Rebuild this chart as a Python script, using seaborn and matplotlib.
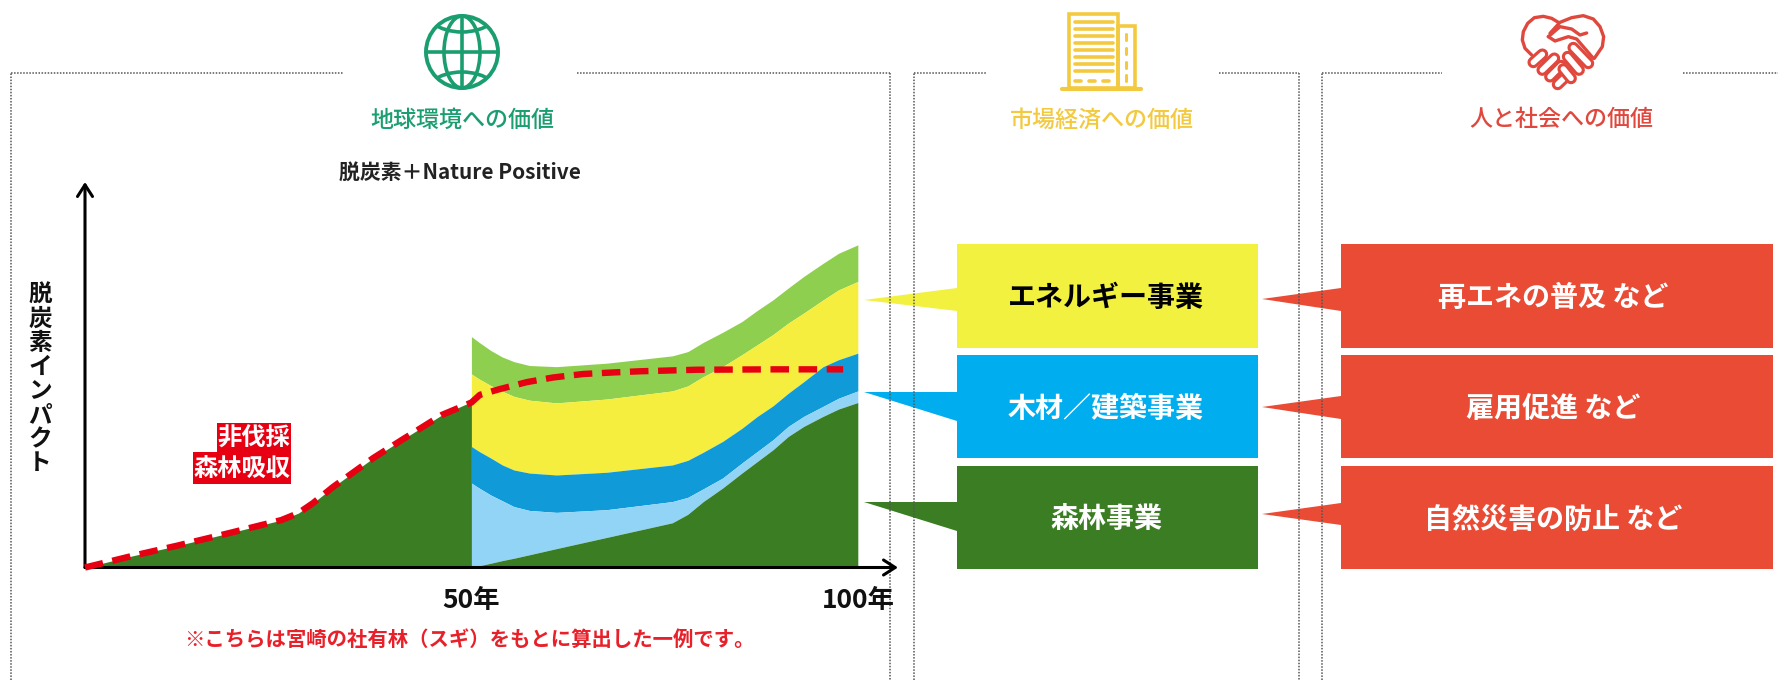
import matplotlib
matplotlib.use("Agg")
import matplotlib.pyplot as plt
import matplotlib.patches as mpatches
import pandas as pd
import seaborn as sns

sns.set_theme(style="white")
plt.rcParams['font.family'] = ['Noto Sans CJK JP', 'DejaVu Sans']

# Decarbonisation impact by stand age, stacked by business line
years_before = [0, 6.1, 12, 18.8, 25.4, 27.6, 29.5, 32.1, 37.3, 41, 46.2, 50]
forest_before = [0, 3.0, 5.7, 9.0, 12.3, 14.1, 16.7, 20.9, 28.4, 33.1, 39.6, 43]

years_after = [50, 51, 52.5, 54, 55.5, 57.5, 61, 67.5, 76, 78, 80, 82.5, 85, 87, 89, 91, 93, 95.5, 97.5, 100]
forest_top = [0, 0.45, 1.1, 1.8, 2.4, 3.3, 4.9, 7.8, 11.6, 13.8, 17.1, 20.6, 24.5, 27.5, 30.5, 34.0, 36.6, 39.2, 41.1, 42.8]
timber_light_top = [21.9, 20.6, 18.8, 17.3, 15.8, 14.8, 14.3, 15.0, 17.1, 18.2, 20.4, 23.2, 27.1, 30.1, 33.1, 36.6, 39.2, 41.8, 43.9, 45.8]
timber_top = [31.4, 30.1, 28.4, 26.6, 25.3, 24.5, 24.0, 24.7, 26.6, 27.8, 29.9, 32.7, 36.1, 39.2, 41.9, 45.2, 48.2, 52.1, 53.9, 55.6]
energy_top = [50.2, 48.9, 47.2, 45.7, 44.4, 43.4, 42.7, 43.7, 45.8, 47.1, 49.5, 52.1, 55.2, 57.8, 60.4, 63.4, 66.0, 69.4, 72.0, 74.2]
energy_light_top = [59.9, 58.4, 56.3, 54.6, 53.4, 52.4, 52.1, 53.0, 54.9, 56.0, 58.4, 61.0, 63.8, 66.7, 69.4, 72.5, 75.5, 78.9, 81.5, 83.7]

# Absorption if the forest is never harvested
no_harvest_years = [0, 6.1, 12, 18.8, 25.4, 27.6, 29.5, 32.1, 37.3, 41, 46.2, 50, 51.1, 53.7,
                    57.2, 60.6, 64.5, 68.4, 71.8, 79.2, 89.1, 98.1]
no_harvest = [0, 3.0, 5.7, 9.0, 12.3, 14.1, 16.7, 20.9, 28.4, 33.1, 39.6, 42.8, 44.8, 46.3,
              48.1, 49.3, 50.2, 50.6, 50.9, 51.3, 51.4, 51.4]

x_ticks = [50, 100]
x_tick_labels = ["50年", "100年"]

titles = ["地球環境への価値", "市場経済への価値", "人と社会への価値"]
business_labels = ["エネルギー事業", "木材／建築事業", "森林事業"]
social_labels = ["再エネの普及 など", "雇用促進 など", "自然災害の防止 など"]

DARK = "#3B7D23"
LIGHT_GREEN = "#8FCF4F"
YELLOW = "#F5EE3F"
BLUE = "#109BD8"
LIGHT_BLUE = "#92D4F5"
RED = "#E60012"
ORANGE_RED = "#E94B35"
TITLE_GREEN = "#1A9E6F"
TITLE_YELLOW = "#F3C93F"
TITLE_RED = "#E0483E"

W, H = 1778, 680
fig = plt.figure(figsize=(W / 100, H / 100), dpi=100, facecolor="white")

# Full-figure layer in pixel units for the panels, callouts and icons
bg = fig.add_axes([0, 0, 1, 1])
bg.set_xlim(0, W)
bg.set_ylim(H, 0)
bg.axis("off")

dotted = dict(color="#555555", lw=1.1, linestyle=(0, (1, 1)), solid_capstyle="butt")
panels = [(11, 344, 577, 890), (914, 986, 1219, 1299), (1322, 1442, 1683, 1778)]
for left, gap_l, gap_r, right in panels:
    bg.plot([left, left], [680, 73], **dotted)
    bg.plot([left, gap_l], [73, 73], **dotted)
    bg.plot([gap_r, right], [73, 73], **dotted)
    if right < W:
        bg.plot([right, right], [73, 680], **dotted)

# Panel titles
for txt, cx, col in zip(titles, [462, 1102, 1561], [TITLE_GREEN, TITLE_YELLOW, TITLE_RED]):
    bg.text(cx, 120, txt, ha="center", va="center", fontsize=16.6, color=col, weight="medium")
bg.text(460, 172, "脱炭素＋Nature Positive", ha="center", va="center", fontsize=15,
        color="#222222", weight="bold")

# Business and social value boxes with their pointers
rows = [(244, 348), (355, 458), (466, 569)]
box_cols = ["#F2F140", "#00AEEF", "#3A7D22"]
box_text = ["black", "white", "white"]
tails = [(300, 288, 311), (392, 392, 421), (502, 502, 531)]
red_tails = [(299, 288, 311), (407, 396, 419), (514, 503, 525)]
for i, (top, bottom) in enumerate(rows):
    bg.add_patch(mpatches.Rectangle((957, top), 301, bottom - top, color=box_cols[i], lw=0))
    tip, b0, b1 = tails[i]
    bg.add_patch(mpatches.Polygon([(864, tip), (957, b0), (957, b1)], color=box_cols[i], lw=0))
    bg.text(1106, (top + bottom) / 2 + 2, business_labels[i], ha="center", va="center",
            fontsize=20.2, color=box_text[i], weight="bold")

    bg.add_patch(mpatches.Rectangle((1341, top), 432, bottom - top, color=ORANGE_RED, lw=0))
    tip, b0, b1 = red_tails[i]
    bg.add_patch(mpatches.Polygon([(1262, tip), (1341, b0), (1341, b1)], color=ORANGE_RED, lw=0))
    bg.text(1553, (top + bottom) / 2 + 2, social_labels[i], ha="center", va="center",
            fontsize=20.2, color="white", weight="bold")

# Globe icon
gc, gy, gr = 462, 52, 36
globe_edge = mpatches.Ellipse((gc, gy), 2 * gr, 2 * gr, fill=False, edgecolor=TITLE_GREEN, lw=2.8)
bg.add_patch(globe_edge)
bg.add_patch(mpatches.Ellipse((gc, gy), gr * 1.0, 2 * gr, fill=False, edgecolor=TITLE_GREEN, lw=2.6))
bg.plot([gc, gc], [gy - gr, gy + gr], color=TITLE_GREEN, lw=2.6)
bg.plot([gc - gr, gc + gr], [gy, gy], color=TITLE_GREEN, lw=2.6)
for centre, th0, th1 in [(gy - 50, 0, 180), (gy + 50, 180, 360)]:
    band = mpatches.Arc((gc, centre), 84, 60, theta1=th0, theta2=th1, edgecolor=TITLE_GREEN, lw=2.6)
    bg.add_patch(band)
    band.set_clip_path(globe_edge)

# Office building icon
bld = dict(fill=False, edgecolor=TITLE_YELLOW, lw=2.6)
bg.add_patch(mpatches.Rectangle((1069, 14), 49, 74, **bld))
bg.add_patch(mpatches.Rectangle((1118, 26), 17, 62, **bld))
bg.plot([1062, 1141], [89, 89], color=TITLE_YELLOW, lw=3)
for yy in range(22, 76, 7):
    bg.plot([1075, 1113], [yy, yy], color=TITLE_YELLOW, lw=2.6)
for yy in (37, 51, 65, 78):
    bg.plot([1126, 1126], [yy - 3, yy + 3], color=TITLE_YELLOW, lw=2.2)
for xx in (1078, 1092, 1106):
    bg.plot([xx - 3, xx + 3], [81, 81], color=TITLE_YELLOW, lw=2.6)


def icon_xy(points):
    """Icon-local units, 3 per pixel from the icon corner, to figure pixels."""
    return [1505 + p[0] / 3 for p in points], [5 + p[1] / 3 for p in points]


def icon_line(points, lw=2.4):
    xs, ys = icon_xy(points)
    bg.plot(xs, ys, color=TITLE_RED, lw=lw, solid_capstyle="round", solid_joinstyle="round")


def icon_pill(p0, p1):
    # Rounded finger outline: a thick stroke with a white core
    xs, ys = icon_xy([p0, p1])
    bg.plot(xs, ys, color=TITLE_RED, lw=8.5, solid_capstyle="round")
    bg.plot(xs, ys, color="white", lw=4.0, solid_capstyle="round")


# Heart and handshake icon
icon_line([(160, 52), (140, 40), (115, 34), (88, 38), (68, 55), (55, 80), (52, 105), (60, 130), (80, 150)])
icon_line([(135, 85), (165, 52), (200, 38), (235, 32), (265, 42), (285, 65), (296, 95), (292, 125), (268, 160)])
icon_line([(130, 95), (165, 65), (200, 72), (225, 90), (245, 84)])
icon_line([(130, 95), (150, 108), (190, 95), (215, 102), (265, 160)])
for p0, p1 in [((85, 172), (112, 148)), ((112, 195), (148, 160)), ((135, 215), (168, 182)), ((158, 238), (182, 215))]:
    icon_pill(p0, p1)
for p0, p1 in [((250, 175), (205, 128)), ((222, 195), (188, 155)), ((198, 220), (175, 192))]:
    icon_pill(p0, p1)

# Stacked areas on an axes whose 100 units span the drawn axis length
ax = fig.add_axes([85 / W, 1 - 567.5 / H, (898 - 85) / W, (567.5 - 182) / H], facecolor="none")
ax.set_xlim(0, 105.2)
ax.set_ylim(0, 100)

ax.fill_between(years_after, energy_top, energy_light_top, color=LIGHT_GREEN, lw=0)
ax.fill_between(years_after, timber_top, energy_top, color=YELLOW, lw=0)
ax.fill_between(years_after, timber_light_top, timber_top, color=BLUE, lw=0)
ax.fill_between(years_after, forest_top, timber_light_top, color=LIGHT_BLUE, lw=0)
ax.fill_between(years_after, 0, forest_top, color=DARK, lw=0)
ax.fill_between(years_before, 0, forest_before, color=DARK, lw=0)

line_data = pd.DataFrame({"year": no_harvest_years, "absorption": no_harvest})
sns.lineplot(data=line_data, x="year", y="absorption", ax=ax, color=RED, lw=4.6, sort=False,
             errorbar=None, linestyle=(0, (2.9, 1.5)), clip_on=False, zorder=5)

ax.set_xlabel("")
ax.set_ylabel("")
ax.set_yticks([])
ax.set_xticks(x_ticks)
ax.set_xticklabels(x_tick_labels, fontsize=19, weight="bold", color="#111111")
ax.tick_params(axis="x", length=0, pad=14)
for side in ("top", "right", "left", "bottom"):
    ax.spines[side].set_visible(False)

arrow = dict(arrowstyle="->,head_length=0.7,head_width=0.45", color="black", lw=2.2, shrinkA=0, shrinkB=0)
ax.annotate("", xy=(0, 1), xytext=(0, 0), xycoords="axes fraction", arrowprops=arrow, annotation_clip=False)
ax.annotate("", xy=(1, 0), xytext=(0, 0), xycoords="axes fraction", arrowprops=arrow, annotation_clip=False)

# Direct labels
bg.add_patch(mpatches.Rectangle((217, 423), 74, 29, color="#E60012", lw=0))
bg.add_patch(mpatches.Rectangle((193, 452), 98, 32, color="#E60012", lw=0))
bg.text(254, 439, "非伐採", ha="center", va="center", fontsize=17.5, color="white", weight="bold", zorder=6)
bg.text(242, 469, "森林吸収", ha="center", va="center", fontsize=17.5, color="white", weight="bold", zorder=6)

bg.text(40, 379, "\n".join("脱炭素インパクト"), ha="center", va="center", fontsize=17,
        weight="bold", color="#111111", linespacing=1.0)
bg.text(469, 639, "※こちらは宮崎の社有林（スギ）をもとに算出した一例です。", ha="center", va="center",
        fontsize=14.7, color="#E8202A", weight="bold")

fig.savefig("out.png", dpi=100, facecolor="white")
